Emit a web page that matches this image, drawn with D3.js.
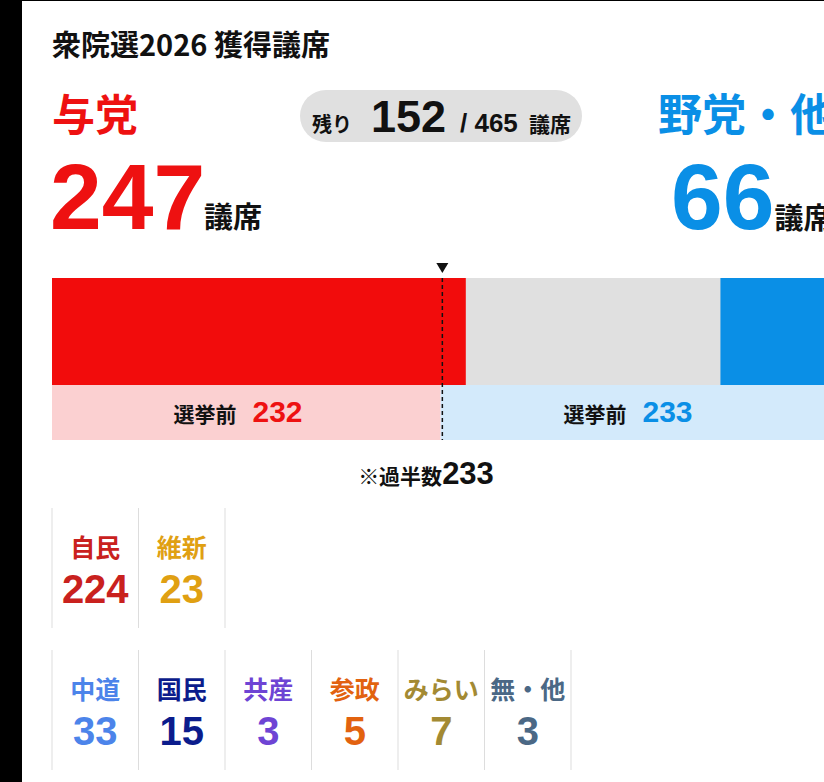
<!DOCTYPE html>
<html><head><meta charset="utf-8">
<script src="https://cdn.jsdelivr.net/npm/d3@7"></script>
<style>
body{margin:0;background:#000;overflow:hidden}
svg{display:block}
text{font-family:"Noto Sans CJK JP","Noto Sans",sans-serif}
.num{font-family:"Liberation Sans",Arial,sans-serif;font-weight:bold}
</style></head><body>
<svg id="c" width="860" height="782"></svg>
<script>
// Data
var total = 465, majority = 233;
var ruling = 247, opposition = 66, remaining = 152;
var preRuling = 232, preOpposition = 233;
var rulingParties = [{name:"自民",seats:224,color:"#c9211e"},{name:"維新",seats:23,color:"#e0a012"}];
var oppParties = [
  {name:"中道",seats:33,color:"#4c84ea"},
  {name:"国民",seats:15,color:"#0b1c8c"},
  {name:"共産",seats:3,color:"#6e44d4"},
  {name:"参政",seats:5,color:"#e2620f"},
  {name:"みらい",seats:7,color:"#a38a33"},
  {name:"無・他",seats:3,color:"#4b6885"}
];

var svg = d3.select("#c");
svg.append("rect").attr("x",22).attr("y",1).attr("width",840).attr("height",781).attr("fill","#fff");

var x = d3.scaleLinear().domain([0,total]).range([52,831]);

svg.append("text").attr("x",52).attr("y",56).attr("font-size",29).attr("font-weight","bold").attr("fill","#111").text("衆院選2026 獲得議席");

svg.append("text").attr("x",52).attr("y",131).attr("font-size",43).attr("font-weight","bold").attr("fill","#ee1111").text("与党");
svg.append("text").attr("class","num").attr("x",50).attr("y",229).attr("font-size",93).attr("fill","#ee1111").text(ruling);
svg.append("text").attr("x",204).attr("y",228).attr("font-size",29).attr("font-weight","bold").attr("fill","#111").text("議席");

// remaining pill
svg.append("rect").attr("x",300).attr("y",90).attr("width",282).attr("height",52).attr("rx",26).attr("fill","#e0e0e0");
svg.append("text").attr("x",312).attr("y",132).attr("font-size",20).attr("font-weight","bold").attr("fill","#111").text("残り");
svg.append("text").attr("class","num").attr("x",371).attr("y",132).attr("font-size",45).attr("fill","#111").text(remaining);
svg.append("text").attr("class","num").attr("x",460).attr("y",132).attr("font-size",26).attr("fill","#111").text("/ " + total);
svg.append("text").attr("x",529).attr("y",132).attr("font-size",21).attr("font-weight","bold").attr("fill","#111").text("議席");

svg.append("text").attr("x",834).attr("y",131).attr("text-anchor","end").attr("font-size",44).attr("font-weight","bold").attr("fill","#0a8fe6").text("野党・他");
var on = svg.append("text").attr("x",671).attr("y",229);
on.append("tspan").attr("class","num").attr("font-size",93).attr("fill","#0a8fe6").text(opposition);
on.append("tspan").attr("font-size",29).attr("font-weight","bold").attr("fill","#111").text("議席");

// main bar
svg.append("rect").attr("x",x(0)).attr("y",278).attr("width",x(total)-x(0)).attr("height",107).attr("fill","#e0e0e0");
svg.append("rect").attr("x",x(0)).attr("y",278).attr("width",x(ruling)-x(0)).attr("height",107).attr("fill","#f20c0c");
svg.append("rect").attr("x",x(total-opposition)).attr("y",278).attr("width",x(total)-x(total-opposition)).attr("height",107).attr("fill","#0a8fe6");

// pre-election band
svg.append("rect").attr("x",x(0)).attr("y",385).attr("width",x(preRuling)-x(0)).attr("height",55).attr("fill","#fbd0d1");
svg.append("rect").attr("x",x(preRuling)).attr("y",385).attr("width",x(total)-x(preRuling)).attr("height",55).attr("fill","#d3eafb");
var pl = svg.append("text").attr("x",238).attr("y",422).attr("text-anchor","middle");
pl.append("tspan").attr("font-size",21).attr("font-weight","bold").attr("fill","#111").text("選挙前");
pl.append("tspan").attr("class","num").attr("dx",16).attr("font-size",30).attr("fill","#ee1111").text(preRuling);
var pr = svg.append("text").attr("x",628).attr("y",422).attr("text-anchor","middle");
pr.append("tspan").attr("font-size",21).attr("font-weight","bold").attr("fill","#111").text("選挙前");
pr.append("tspan").attr("class","num").attr("dx",16).attr("font-size",30).attr("fill","#0a8fe6").text(preOpposition);

// majority marker
var mx = x(majority);
svg.append("line").attr("x1",mx).attr("x2",mx).attr("y1",278).attr("y2",440).attr("stroke","#111").attr("stroke-width",1.5).attr("stroke-dasharray","4,3");
svg.append("path").attr("d","M"+(mx-6)+",263L"+(mx+6)+",263L"+mx+",273Z").attr("fill","#111");
var mt = svg.append("text").attr("x",426).attr("y",484).attr("text-anchor","middle");
mt.append("tspan").attr("font-size",21).attr("font-weight","bold").attr("fill","#111").text("※過半数");
mt.append("tspan").attr("class","num").attr("font-size",31).attr("fill","#111").text(majority);

// party cards
function cards(data, top){
  var g = svg.append("g");
  var cw = 86.5;
  g.selectAll("line").data(d3.range(data.length+1)).join("line")
    .attr("x1",function(i){return 52+i*cw;}).attr("x2",function(i){return 52+i*cw;})
    .attr("y1",top).attr("y2",top+120).attr("stroke","#ddd");
  var c = g.selectAll("g").data(data).join("g").attr("transform",function(d,i){return "translate("+(52+i*cw+cw/2)+","+top+")";});
  c.append("text").attr("y",49).attr("text-anchor","middle").attr("font-size",25).attr("font-weight","bold").attr("fill",function(d){return d.color;}).text(function(d){return d.name;});
  c.append("text").attr("class","num").attr("y",95).attr("text-anchor","middle").attr("font-size",40).attr("fill",function(d){return d.color;}).text(function(d){return d.seats;});
}
cards(rulingParties, 508);
cards(oppParties, 650);
</script></body></html>
